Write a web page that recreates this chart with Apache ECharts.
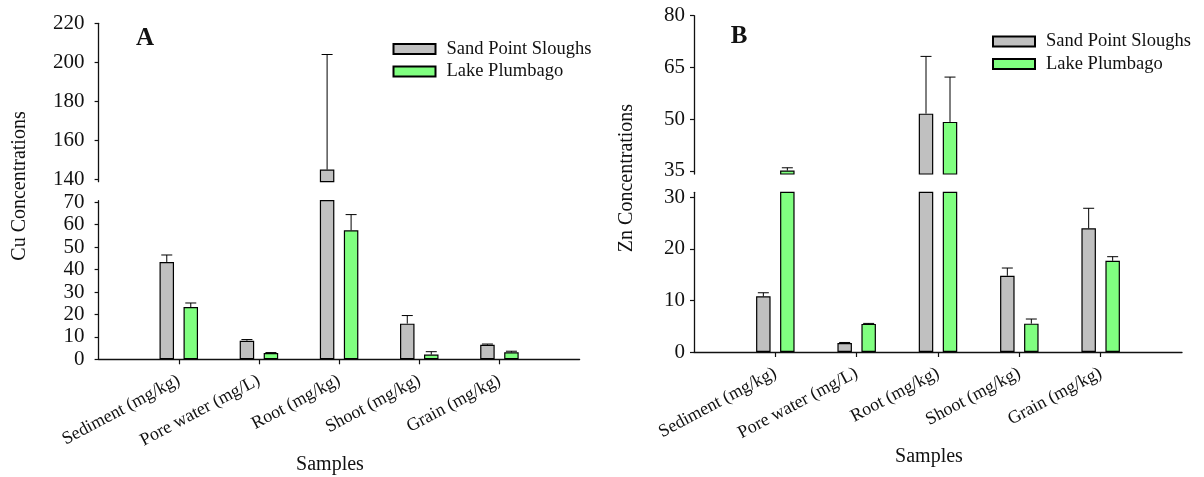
<!DOCTYPE html>
<html>
<head>
<meta charset="utf-8">
<script src="https://cdn.jsdelivr.net/npm/echarts@6/dist/echarts.min.js"></script>
<style>
  html, body { margin: 0; padding: 0; background: #fff; }
  #main { width: 1204px; height: 477px; }
</style>
</head>
<body>
<div id="main"></div>
<script>
// 样品类别
var samples = ['Sediment (mg/kg)', 'Pore water (mg/L)', 'Root (mg/kg)', 'Shoot (mg/kg)', 'Grain (mg/kg)'];
var seriesNames = ['Sand Point Sloughs', 'Lake Plumbago'];

// Cu (A)
var cuSand = [43.4, 8.3, 145, 15.9, 6.5];
var cuSandErr = [3.1, 0.5, 59, 3.6, 0.3];
var cuLake = [23.3, 2.8, 57.5, 2.1, 3.1];
var cuLakeErr = [1.8, 0.2, 7, 1.3, 0.5];

// Zn (B)
var znSand = [10.8, 1.75, 51.6, 14.8, 24.0];
var znSandErr = [0.7, 0.1, 16.6, 1.5, 3.9];
var znLake = [35.1, 5.45, 49.2, 5.5, 17.7];
var znLakeErr = [0.8, 0.1, 13.0, 0.9, 0.8];

// tick labels
var cuTicksHigh = [140, 160, 180, 200, 220];
var cuTicksLow = [0, 10, 20, 30, 40, 50, 60, 70];
var znTicksHigh = [35, 50, 65, 80];
var znTicksLow = [0, 10, 20, 30];

var FONT = "'Liberation Serif', 'Times New Roman', serif";
var INK = '#111';
var BAR_W = 14.5;
var BAR_GAP = 9.5;
var OFFSET = (BAR_W + BAR_GAP) / 2;
var CAP = 11;

// 两端留空类别，使刻度落在 1..5
var cats = [''].concat(samples).concat(['']);
function pad(arr) {
    return ['-'].concat(arr).concat(['-']);
}
function errData(a, ae, b, be) {
    return a.map(function(v, i) {
        return [i + 1, v, ae[i], b[i], be[i]];
    });
}

function renderErr(params, api) {
    var cs = params.coordSys;
    var top = cs.y, bot = cs.y + cs.height;
    var idx = api.value(0);
    var children = [];
    [[1, 2, -OFFSET], [3, 4, OFFSET]].forEach(function(d) {
        var v = api.value(d[0]), e = api.value(d[1]);
        var p0 = api.coord([idx, v]);
        var p1 = api.coord([idx, v + e]);
        var x = p0[0] + d[2];
        var y0 = Math.min(Math.max(p0[1], top), bot);
        var y1 = Math.min(Math.max(p1[1], top), bot);
        if (y0 === y1) return;
        children.push({
            type: 'line',
            shape: { x1: x, y1: y0, x2: x, y2: y1 },
            style: { stroke: '#000', lineWidth: 1 }
        });
        if (p1[1] >= top && p1[1] <= bot) {
            children.push({
                type: 'line',
                shape: { x1: x - CAP / 2, y1: p1[1], x2: x + CAP / 2, y2: p1[1] },
                style: { stroke: '#000', lineWidth: 1 }
            });
        }
    });
    return { type: 'group', children: children };
}

function xAxisOf(grid, visible) {
    return {
        type: 'category',
        gridIndex: grid,
        data: cats,
        boundaryGap: false,
        show: visible,
        axisLine: { show: visible, lineStyle: { color: INK, width: 1.3 } },
        axisTick: {
            show: visible,
            length: 5,
            interval: function(i, v) { return v !== ''; },
            lineStyle: { color: INK, width: 1.2 }
        },
        axisLabel: {
            show: visible,
            interval: 0,
            rotate: 28,
            margin: 20,
            fontFamily: FONT,
            fontSize: 18,
            color: INK
        },
        splitLine: { show: false }
    };
}

function yAxisOf(grid, min, max, ticks, margin) {
    return {
        type: 'value',
        gridIndex: grid,
        min: min,
        max: max,
        axisLine: { show: true, lineStyle: { color: INK, width: 1.3 } },
        axisTick: { show: true, length: 4, customValues: ticks, lineStyle: { color: INK, width: 1.2 } },
        axisLabel: { customValues: ticks, margin: margin, fontFamily: FONT, fontSize: 21, color: INK },
        splitLine: { show: false }
    };
}

function barSeries(grid, name, data, color) {
    return {
        type: 'bar',
        name: name,
        xAxisIndex: grid,
        yAxisIndex: grid,
        data: pad(data),
        barWidth: BAR_W,
        barGap: (BAR_GAP / BAR_W * 100) + '%',
        clip: true,
        itemStyle: { color: color, borderColor: '#000', borderWidth: 1.2 },
        emphasis: { disabled: true },
        animation: false
    };
}

function errSeries(grid, data) {
    return {
        type: 'custom',
        xAxisIndex: grid,
        yAxisIndex: grid,
        data: data,
        renderItem: renderErr,
        z: 5,
        silent: true,
        animation: false
    };
}

function legendOf(left, top) {
    return {
        orient: 'vertical',
        left: left,
        top: top,
        padding: 0,
        data: seriesNames,
        icon: 'rect',
        itemWidth: 42,
        itemHeight: 10,
        itemGap: 3.5,
        selectedMode: false,
        textStyle: { fontFamily: FONT, fontSize: 18.5, color: INK, padding: [0, 0, 0, 6] }
    };
}

var GRAY = '#c0c0c0';
var GREEN = '#80ff80';

var cuErr = errData(cuSand, cuSandErr, cuLake, cuLakeErr);
var znErr = errData(znSand, znSandErr, znLake, znLakeErr);

var option = {
    backgroundColor: '#fff',
    animation: false,
    grid: [
        { left: 98.6, width: 481, top: 23.3, height: 158.4 },
        { left: 98.6, width: 481, top: 200.7, height: 158.6 },
        { left: 694, width: 488, top: 15.7, height: 158.3 },
        { left: 694, width: 488, top: 192.3, height: 159.7 }
    ],
    xAxis: [xAxisOf(0, false), xAxisOf(1, true), xAxisOf(2, false), xAxisOf(3, true)],
    yAxis: [
        yAxisOf(0, 138.8, 220, cuTicksHigh, 14),
        yAxisOf(1, 0, 70.7, cuTicksLow, 14),
        yAxisOf(2, 34.1, 80, znTicksHigh, 9),
        yAxisOf(3, 0, 31, znTicksLow, 9)
    ],
    legend: [legendOf(392.5, 39.5), legendOf(992, 32)],
    graphic: [
        { type: 'text', x: 145, y: 39, style: { text: 'A', fontFamily: FONT, fontSize: 25, fontWeight: 'bold', fill: INK, textAlign: 'center', textVerticalAlign: 'middle' } },
        { type: 'text', x: 739, y: 37, style: { text: 'B', fontFamily: FONT, fontSize: 25, fontWeight: 'bold', fill: INK, textAlign: 'center', textVerticalAlign: 'middle' } },
        { type: 'text', x: 20, y: 186, rotation: Math.PI / 2, style: { text: 'Cu Concentrations', fontFamily: FONT, fontSize: 20, fill: INK, textAlign: 'center', textVerticalAlign: 'middle' } },
        { type: 'text', x: 627, y: 178, rotation: Math.PI / 2, style: { text: 'Zn Concentrations', fontFamily: FONT, fontSize: 20, fill: INK, textAlign: 'center', textVerticalAlign: 'middle' } },
        { type: 'text', x: 330, y: 465, style: { text: 'Samples', fontFamily: FONT, fontSize: 20, fill: INK, textAlign: 'center', textVerticalAlign: 'middle' } },
        { type: 'text', x: 929, y: 457, style: { text: 'Samples', fontFamily: FONT, fontSize: 20, fill: INK, textAlign: 'center', textVerticalAlign: 'middle' } }
    ],
    series: [
        barSeries(0, seriesNames[0], cuSand, GRAY),
        barSeries(0, seriesNames[1], cuLake, GREEN),
        barSeries(1, seriesNames[0], cuSand, GRAY),
        barSeries(1, seriesNames[1], cuLake, GREEN),
        barSeries(2, seriesNames[0], znSand, GRAY),
        barSeries(2, seriesNames[1], znLake, GREEN),
        barSeries(3, seriesNames[0], znSand, GRAY),
        barSeries(3, seriesNames[1], znLake, GREEN),
        errSeries(0, cuErr),
        errSeries(1, cuErr),
        errSeries(2, znErr),
        errSeries(3, znErr)
    ]
};

var myChart = echarts.init(document.getElementById('main'), null, { renderer: 'canvas' });
myChart.setOption(option);
</script>
</body>
</html>
